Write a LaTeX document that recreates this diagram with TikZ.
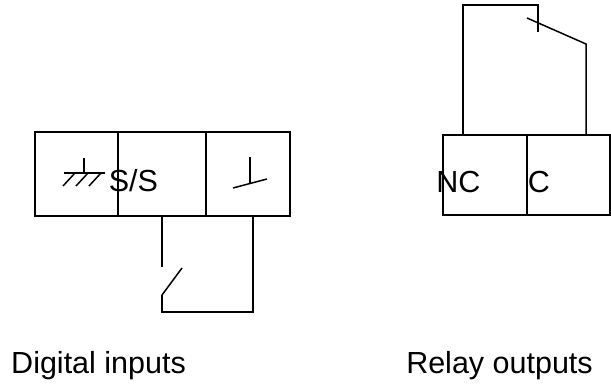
\documentclass[tikz,border=0pt]{standalone}
\usepackage{fontspec}
\setmainfont{Liberation Sans}
\usetikzlibrary{positioning,calc}

\tikzset{
  cell/.style={draw, rectangle, inner sep=0pt, outer sep=0pt},
  label text/.style={inner sep=0pt, anchor=base west, font=\fontsize{30.5}{36}\selectfont},
}

\begin{document}
\begin{tikzpicture}[x=1pt, y=-1pt, line width=1.5pt]
  \useasboundingbox (0,0) rectangle (611,385);

  % Digital inputs terminal block
  \node[cell, minimum width=83pt, minimum height=84pt, anchor=north west] (gnd) at (35,132) {};
  \node[cell, minimum width=88pt, minimum height=84pt, right=0pt of gnd] (ss) {};
  \node[cell, minimum width=84pt, minimum height=84pt, right=0pt of ss] (din) {};

  % Ground symbol
  \draw (84,158) -- (84,173);
  \draw (64,173) -- (105,173);
  \foreach \x in {63,76,89}
    \draw (\x,186) -- ++(12,-13);
  \node[label text] (sslabel) at (108,192) {S/S};

  % Input contact symbol
  \draw (250,157) -- (250,184);
  \draw (233,188) -- (267,179);

  % External switch
  \coordinate (sw top) at (162,267);
  \coordinate (sw pivot) at (162,295);
  \coordinate (sw blade) at (182,268);
  \coordinate (sw bottom) at (162,312);
  \coordinate (sw return) at (253,216);
  \draw (ss.south) -- (sw top);
  \draw (sw pivot) -- (sw blade);
  \draw (sw pivot) -- (sw bottom) -| (sw return);

  % Relay outputs terminal block
  \node[cell, minimum width=84pt, minimum height=80pt, anchor=north west] (nc) at (443,135) {};
  \node[cell, minimum width=83pt, minimum height=80pt, right=0pt of nc] (com) {};
  \node[label text] (nclabel) at (435.5,193) {NC};
  \node[label text] (clabel) at (527,193) {C};

  % Relay contact
  \coordinate (nc top) at (463,5);
  \coordinate (rl fixed) at (538,5);
  \coordinate (rl stop) at (538,32);
  \coordinate (rl tip) at (527,18);
  \coordinate (rl pivot) at (586,44);
  \draw (nc.north -| nc top) -- (nc top) -- (rl fixed) -- (rl stop);
  \draw (rl tip) -- (rl pivot) -- (com.north -| rl pivot);

  % Captions
  \node[label text] (dilabel) at (10.5,373) {Digital inputs};
  \node[label text] (rolabel) at (405.5,373) {Relay outputs};
\end{tikzpicture}
\end{document}
